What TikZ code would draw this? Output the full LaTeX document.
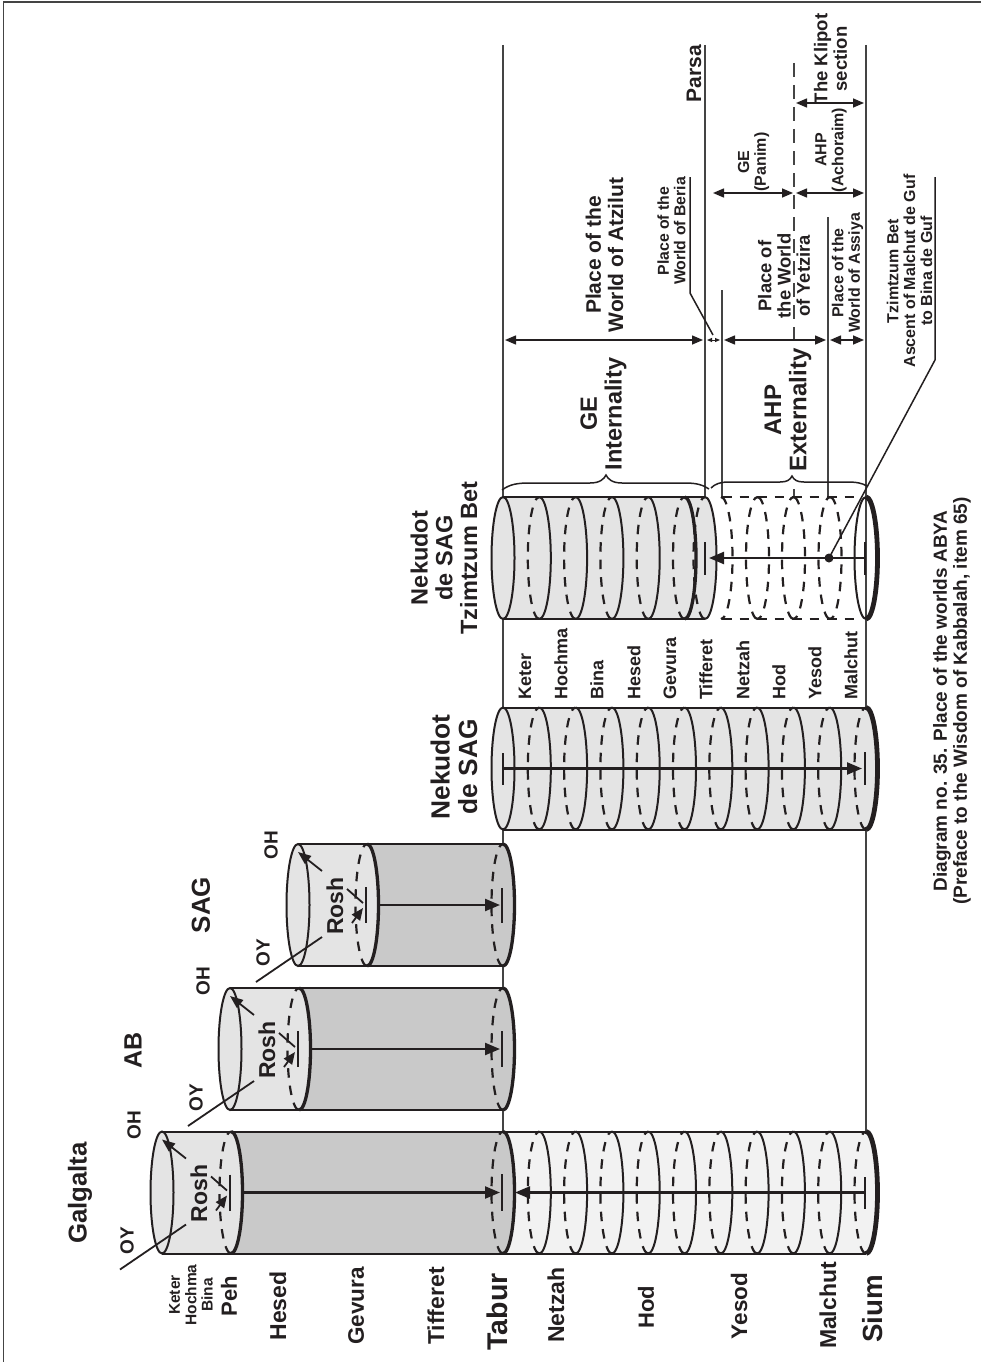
\documentclass[tikz,border=0pt]{standalone}
\usepackage{fontspec}
\setmainfont{Liberation Sans}
\usetikzlibrary{arrows.meta}
\definecolor{ink}{HTML}{231F20}
\definecolor{rule}{HTML}{444444}
\definecolor{rosh}{HTML}{E4E4E4}
\definecolor{body}{HTML}{C9C9C9}
\definecolor{pale}{HTML}{F2F2F2}
\tikzset{
  thinl/.style={draw=ink,line width=2pt},
  thickl/.style={draw=ink,line width=3.3pt},
  heavyl/.style={draw=ink,line width=4.8pt},
  dashl/.style={draw=ink,line width=2.2pt,dash pattern=on 9.5pt off 8pt},
  guide/.style={draw=rule,line width=1.4pt},
  leader/.style={draw=ink,line width=1.5pt},
  dim/.style={draw=ink,line width=1.5pt,{Triangle[length=11pt,width=9pt]}-{Triangle[length=11pt,width=9pt]}},
  arr/.style={draw=ink,line width=2.3pt,-{Triangle[length=15pt,width=12pt]}},
  lab/.style={rotate=90,inner sep=0pt,align=center,text=ink}
}
% front arc / back arc of a cylinder section: #1 x of tips, #2 y of centre, #3 style
\newcommand{\frontarc}[3]{\draw[#3] (#1,#2-61) arc[start angle=90,end angle=-90,x radius=11.5pt,y radius=61pt];}
\newcommand{\backarc}[3]{\draw[#3] (#1,#2+61) arc[start angle=-90,end angle=-270,x radius=11.5pt,y radius=61pt];}
\newcommand{\bandfill}[4]{\fill[#4] (#1,#3-61) -- (#2,#3-61) arc[start angle=90,end angle=-90,x radius=11.5pt,y radius=61pt] -- (#1,#3+61) arc[start angle=-90,end angle=-270,x radius=11.5pt,y radius=61pt] -- cycle;}
\newcommand{\sides}[3]{\draw[thinl] (#1,#3-61) -- (#2,#3-61) (#1,#3+61) -- (#2,#3+61);}
\newcommand{\lbl}[6][]{\node[lab,#1,font=\bfseries\fontsize{#5}{\dimexpr#5pt*105/100\relax}\selectfont] (#2) at (#3,#4) {#6};}
% head of a partzuf: #1 ellipse x, #2 y centre
\newcommand{\headpart}[2]{
  \fill[rosh] (#1,#2) ellipse[x radius=11.5pt,y radius=61pt];
  \draw[thinl] (#1,#2) ellipse[x radius=11.5pt,y radius=61pt];
  \draw[leader,line width=1.8pt] (#1-42,#2+77) -- (#1+24,#2+32);
  \draw[draw=ink,line width=1.8pt,-{Triangle[length=13pt,width=10pt]}] (#1+24,#2-34) -- (#1,#2-53);
  \draw[thinl] (#1+68,#2-18) -- (#1+68,#2+18);
  \draw[draw=ink,line width=1.8pt,-{Triangle[length=12pt,width=10pt]}] (#1+54,#2+18) -- (#1+65,#2+3);
  \draw[draw=ink,line width=1.8pt] (#1+65,#2-2) -- (#1+49,#2-16);
  \node[lab,font=\bfseries\fontsize{23}{23}\selectfont] (rosh#1) at (#1+37,#2+1) {Rosh};
}
\begin{document}
\begin{tikzpicture}[x=1pt,y=-1pt]
\useasboundingbox (0,0) rectangle (981,1362);
\draw[draw=rule,line width=1.4pt] (3.5,1362) -- (3.5,2) -- (981,2);
% guides
\draw[guide] (503,45) -- (503,1131);
\draw[guide] (866,45) -- (866,1131);
\draw[guide] (705,45) -- (705,497);
\draw[guide] (722,290) -- (722,497);
\draw[guide] (828,217) -- (828,497);
\draw[rule,line width=1.4pt,dash pattern=on 14pt off 8pt] (794,63) -- (794,347);
\draw[guide] (794,489) -- (794,497);
% Galgalta
\bandfill{503}{866}{1192.5}{pale}
\bandfill{231}{503}{1192.5}{body}
\bandfill{162}{231}{1192.5}{rosh}
\sides{162}{866}{1192.5}
\headpart{162}{1192.5}
\backarc{231}{1192.5}{dashl}
\frontarc{231}{1192.5}{thickl}
\backarc{503}{1192.5}{dashl}
\foreach \k in {1,...,9}{\pgfmathsetmacro\xx{503+36.3*\k}
  \backarc{\xx}{1192.5}{dashl}\frontarc{\xx}{1192.5}{thinl}}
\backarc{866}{1192.5}{dashl}
\frontarc{503}{1192.5}{thickl}
\frontarc{866}{1192.5}{heavyl}
\draw[arr] (243,1192.5) -- (500,1192.5);
\draw[thinl] (502,1174) -- (502,1211);
\draw[arr] (865,1192.5) -- (515,1192.5);
\draw[thinl] (865,1177) -- (865,1209);
% AB
\bandfill{299}{503}{1049}{body}
\bandfill{230}{299}{1049}{rosh}
\sides{230}{503}{1049}
\headpart{230}{1049}
\backarc{299}{1049}{dashl}
\frontarc{299}{1049}{thickl}
\backarc{503}{1049}{dashl}
\frontarc{503}{1049}{thickl}
\draw[arr] (311,1049) -- (500,1049);
\draw[thinl] (502,1031) -- (502,1067);
% SAG
\bandfill{367}{503}{905}{body}
\bandfill{298}{367}{905}{rosh}
\sides{298}{503}{905}
\headpart{298}{905}
\backarc{367}{905}{dashl}
\frontarc{367}{905}{thickl}
\backarc{503}{905}{dashl}
\frontarc{503}{905}{thickl}
\draw[arr] (379,905) -- (500,905);
\draw[thinl] (502,888) -- (502,923);
% Nekudot de SAG
\bandfill{503}{866}{768.5}{rosh}
\sides{503}{866}{768.5}
\draw[thinl] (503,768.5) ellipse[x radius=11.5pt,y radius=61pt];
\foreach \k in {1,...,9}{\pgfmathsetmacro\xx{503+36.3*\k}
  \backarc{\xx}{768.5}{dashl}\frontarc{\xx}{768.5}{thinl}}
\backarc{866}{768.5}{dashl}
\frontarc{866}{768.5}{heavyl}
\draw[arr] (503,768.5) -- (862,768.5);
\draw[thinl] (503,753) -- (503,785);
\draw[thinl] (865,752) -- (865,785);
% Nekudot de SAG, Tzimtzum Bet
\bandfill{503}{705}{558}{rosh}
\sides{503}{705}{558}
\draw[thinl] (503,558) ellipse[x radius=11.5pt,y radius=61pt];
\foreach \k in {1,...,4}{\pgfmathsetmacro\xx{503+36.3*\k}
  \backarc{\xx}{558}{dashl}\frontarc{\xx}{558}{thinl}}
\backarc{684.5}{558}{dashl}
\backarc{705}{558}{dashl}
\frontarc{684.5}{558}{thickl}
\frontarc{705}{558}{thinl}
\draw[dashl] (722,497) -- (860,497) (722,619) -- (860,619);
\frontarc{721}{558}{dashl}
\foreach \k in {757.5,793.5,830}{\backarc{\k}{558}{dashl}\frontarc{\k}{558}{dashl}}
\backarc{866}{558}{thinl}
\frontarc{866}{558}{heavyl}
\draw[arr] (865,558) -- (709,558);
\draw[thinl] (865,542) -- (865,575);
\draw[thinl] (705,542) -- (705,575);
\fill[ink] (829,558) circle[radius=4.5pt];
\coordinate (tzdot) at (829,558);
\coordinate (tzbend) at (935,360);
\coordinate (tzend) at (935,177);
\draw[leader] (tzdot) -- (tzbend) -- (tzend);
% braces
\draw[draw=ink,line width=1.5pt] (502,490) .. controls (510,484) and (518,483) .. (530,483) -- (590,483) .. controls (600,483) and (604,479) .. (606,475) .. controls (608,479) and (612,483) .. (622,483) -- (685,483) .. controls (697,483) and (703,485) .. (709,489);
\draw[draw=ink,line width=1.5pt] (711,488) .. controls (715,484) and (720,482) .. (729,482) -- (780,482) .. controls (787,482) and (790,480) .. (792,476) .. controls (794,480) and (797,482) .. (804,482) -- (847,482) .. controls (856,482) and (862,483) .. (867,486);
% dimension arrows
\coordinate (d1) at (505,340);\coordinate (d2) at (703,340);
\draw[dim] (d1) -- (d2);
\draw[draw=ink,line width=1pt,{Triangle[length=5pt,width=4pt]}-{Triangle[length=5pt,width=4pt]}] (707,340) -- (720,340);
\draw[dim] (724,340) -- (826,340);
\draw[dim] (830,340) -- (864,340);
\draw[dim] (713,193) -- (793,193);
\draw[dim] (796,193) -- (864,193);
\draw[dim] (796,103) -- (864,103);
\draw[leader] (690,177) -- (690,293) -- (713,335);
% labels
\lbl[anchor=center]{keter}{191}{1295}{15.5}{Keter\\Hochma\\Bina}
\lbl{peh}{229}{1296}{22}{Peh}
\lbl{hesed}{278}{1306}{23}{Hesed}
\lbl{gevura}{356}{1306}{22.5}{Gevura}
\lbl{tiff}{436}{1306}{23}{Tifferet}
\lbl{tabur}{497}{1312}{28.5}{Tabur}
\lbl{netzah}{556}{1305}{23}{Netzah}
\lbl{hod}{646}{1307}{22}{Hod}
\lbl{yesod}{739}{1306}{22.5}{Yesod}
\lbl{malchut}{828}{1305.5}{23}{Malchut}
\lbl{sium}{873}{1309}{27.7}{Sium}
\lbl{galgalta}{80}{1193}{25.8}{Galgalta}
\lbl{oya}{127}{1241}{19}{OY}
\lbl{oha}{134}{1125}{19}{OH}
\lbl{ab}{133}{1050}{25}{AB}
\lbl{oyb}{196}{1098}{19}{OY}
\lbl{ohb}{203}{981}{19}{OH}
\lbl{sag}{201}{905}{26}{SAG}
\lbl{oyc}{263}{953}{19}{OY}
\lbl{ohc}{271}{845}{19}{OH}
\lbl{nek}{454}{767}{26.3}{Nekudot\\de SAG}
\lbl{nekb}{444}{558}{23.5}{Nekudot\\de SAG\\Tzimtzum Bet}
\foreach \xx/\nn/\tt in {525/ka/Keter,561/kb/Hochma,597/kc/Bina,634/kd/Hesed,670/ke/Gevura,706/kf/Tifferet,743/kg/Netzah,779/kh/Hod,815/ki/Yesod,851/kj/Malchut}{
  \node[lab,anchor=west,font=\bfseries\fontsize{18}{18}\selectfont] (\nn) at (\xx,700) {\tt};}
\lbl{gei}{603.5}{414}{23.5}{GE\\Internality}
\lbl{ahp}{788}{410}{24}{AHP\\Externality}
\lbl{atz}{604.5}{255}{21}{Place of the\\World of Atzilut}
\lbl{ber}{671.5}{231}{15.8}{Place of the\\World of Beria}
\lbl{parsa}{694}{73.5}{21}{Parsa}
\lbl{klip}{830.5}{59}{18.5}{The Klipot\\section}
\lbl{gep}{753.5}{162}{16}{GE\\(Panim)}
\lbl{ahpa}{831}{150}{16}{AHP\\(Achoraim)}
\lbl{yetz}{784}{276}{18.4}{Place of\\the World\\of Yetzira}
\lbl{assi}{847.5}{273}{15.9}{Place of the\\World of Assiya}
\lbl{tzb}{909.5}{271}{16}{Tzimtzum Bet\\Ascent of Malchut de Guf\\to Bina de Guf}
\lbl{title}{952}{701}{19}{Diagram no. 35. Place of the worlds ABYA\\(Preface to the Wisdom of Kabbalah, item 65)}
\end{tikzpicture}
\end{document}
